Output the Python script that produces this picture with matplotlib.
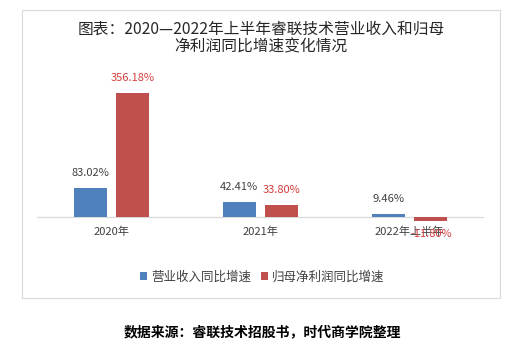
import matplotlib
matplotlib.use('Agg')
import matplotlib.pyplot as plt
from matplotlib.patches import Rectangle, Patch
import numpy as np

plt.rcParams['font.family'] = ['Noto Sans CJK SC', 'DejaVu Sans']

# data
categories = ['2020年', '2021年', '2022年上半年']
revenue_growth = [83.02, 42.41, 9.46]
profit_growth = [356.18, 33.80, -11.80]
series_names = ['营业收入同比增速', '归母净利润同比增速']

BLUE = '#4F81BD'
RED = '#C0504D'
LABEL_GRAY = '#404040'
LABEL_RED = '#D63C3C'

W, H = 526, 353
fig = plt.figure(figsize=(W / 100, H / 100), dpi=100)

# outer frame of the chart
fig.patches.append(Rectangle((22 / W, 1 - 298 / H), 478 / W, 288 / H,
                             transform=fig.transFigure, fill=False,
                             edgecolor='#d9d9d9', linewidth=0.8))

ax = fig.add_axes([37 / W, 1 - 227.8 / H, 447 / W, 143.5 / H])
ax.set_xlim(-0.5, 2.5)
ax.set_ylim(-30, 380)
ax.axis('off')
ax.axhline(0, color='#d9d9d9', linewidth=0.9, zorder=1)

x = np.arange(len(categories))
w = 0.22
off = 0.143
ax.bar(x - off, revenue_growth, w, color=BLUE, zorder=2)
ax.bar(x + off, profit_growth, w, color=RED, zorder=2)

# value labels
for xi, v in zip(x - off, revenue_growth):
    ax.annotate(f'{v:.2f}%', (xi, v), xytext=(0, 15), textcoords='offset pixels',
                ha='center', va='center', fontsize=8, color=LABEL_GRAY)
for xi, v in zip(x + off, profit_growth):
    dy = 15 if v >= 0 else -13
    ax.annotate(f'{v:.2f}%', (xi, v), xytext=(0, dy), textcoords='offset pixels',
                ha='center', va='center', fontsize=8, color=LABEL_RED, zorder=4)

# category labels
for xi, c in zip(x, categories):
    ax.annotate(c, (xi, 0), xytext=(0, -15), textcoords='offset pixels',
                ha='center', va='center', fontsize=8, color=LABEL_GRAY, zorder=3)

fig.text(261 / W, 1 - 29 / H, '图表：2020—2022年上半年睿联技术营业收入和归母',
         ha='center', va='center', fontsize=11.3, color='#262626', fontweight='medium')
fig.text(261 / W, 1 - 47 / H, '净利润同比增速变化情况',
         ha='center', va='center', fontsize=11.3, color='#262626', fontweight='medium')

handles = [Patch(facecolor=BLUE), Patch(facecolor=RED)]
fig.legend(handles, series_names, loc='center', bbox_to_anchor=(262 / W, 1 - 277 / H),
           ncol=2, frameon=False, fontsize=9, handlelength=0.6, handleheight=0.6,
           handletextpad=0.3, columnspacing=0.8, labelcolor=LABEL_GRAY)

fig.text(262 / W, 1 - 332 / H, '数据来源：睿联技术招股书，时代商学院整理',
         ha='center', va='center', fontsize=10, fontweight='bold', color='black')

fig.savefig('out.png', dpi=100)
